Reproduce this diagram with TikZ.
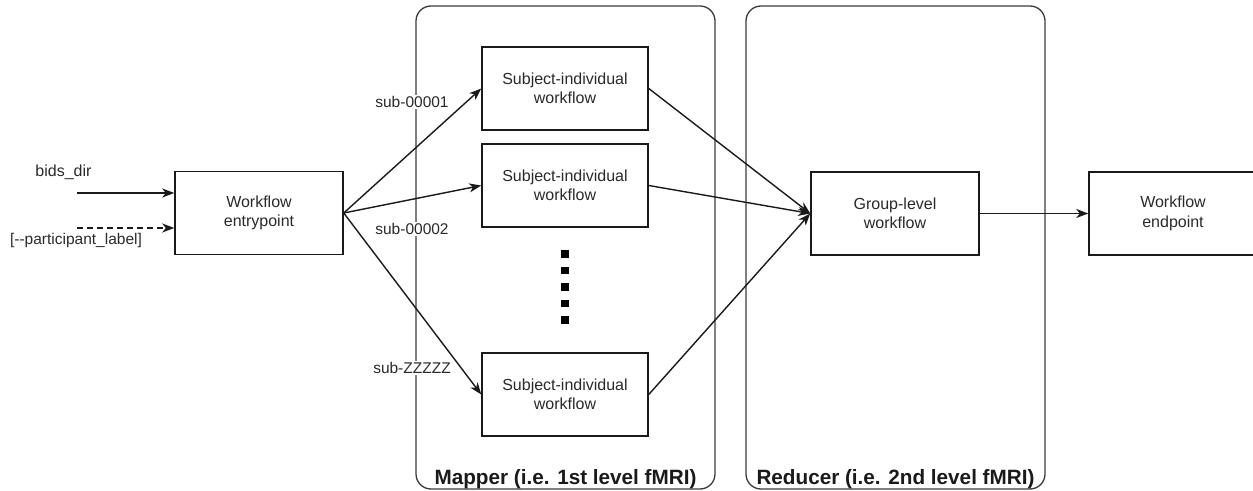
\documentclass[tikz,border=0pt]{standalone}
\usepackage{fontspec}
\setmainfont{Liberation Sans}
\usetikzlibrary{arrows.meta,positioning}
\definecolor{txt}{HTML}{2A2A2A}
\definecolor{ln}{HTML}{1A1A1A}
\tikzset{
  box/.style={draw=ln, line width=1.5bp, fill=white, minimum width=168bp, minimum height=83bp, inner sep=0pt, align=center, text=txt, font=\fontsize{16bp}{19.5bp}\selectfont},
  sbox/.style={box, minimum width=166bp},
  container/.style={draw=ln!85, line width=1.3bp, rounded corners=15bp},
  clabel/.style={anchor=base, text=ln, font=\bfseries\fontsize{20.7bp}{24bp}\selectfont, inner sep=0pt},
  lbl/.style={fill=white, text=txt, inner sep=1.5bp, font=\fontsize{15.5bp}{18bp}\selectfont},
  arr/.style={draw=ln, line width=1.4bp, -{Stealth[length=12bp,width=9bp,inset=3.5bp]}},
  dot/.style={fill=black, minimum size=7.5bp, inner sep=0pt}
}
\begin{document}
\begin{tikzpicture}[x=1bp,y=-1bp]
\useasboundingbox (0,0) rectangle (1253,491);
% containers
\draw[container] (416,6) rectangle (715,489);
\draw[container] (746,6) rectangle (1045,489);
\node[clabel] (mapl) at (565.5,484) {Mapper (i.e. 1st level fMRI)};
\node[clabel] (redl) at (895.5,484) {Reducer (i.e. 2nd level fMRI)};
% nodes
\node[box] (entry) at (259,213) {Workflow\\entrypoint};
\node[sbox] (s1) at (565,88.5) {Subject-individual\\workflow};
\node[sbox] (s2) at (565,185.5) {Subject-individual\\workflow};
\node[sbox] (s3) at (565,394.5) {Subject-individual\\workflow};
\node[box] (group) at (895,213.5) {Group-level\\workflow};
\node[box] (endp) at (1173,213.5) {Workflow\\endpoint};
% dots
\foreach \i/\yy in {1/254,2/270.5,3/287,4/303.5,5/320}
  \node[dot] (d\i) at (565,\yy) {};
% inputs
\coordinate (bin) at (77,193);
\coordinate (pin) at (77,228);
\node[text=txt, font=\fontsize{16bp}{18.5bp}\selectfont, inner sep=0pt] (bidsl) at (63.5,172) {bids\_dir};
\node[text=txt, font=\fontsize{15.5bp}{18bp}\selectfont, inner sep=0pt] (partl) at (76,240) {[-{}-participant\_label]};
\draw[arr] (bin) -- (entry.west |- bin);
\draw[arr, dash pattern=on 6bp off 4bp] (pin) -- (entry.west |- pin);
% mapper edges
\draw[arr] (entry.east) -- (s1.west);
\draw[arr] (entry.east) -- (s2.west);
\draw[arr] (entry.east) -- (s3.west);
\node[lbl] (l1) at (412,102) {sub-00001};
\node[lbl] (l2) at (412,229) {sub-00002};
\node[lbl] (l3) at (412,368) {sub-ZZZZZ};
% reducer edges
\draw[arr] (s1.east) -- (group.west);
\draw[arr] (s2.east) -- (group.west);
\draw[arr] (s3.east) -- (group.west);
\draw[arr] (group.east) -- (endp.west);
\end{tikzpicture}
\end{document}
